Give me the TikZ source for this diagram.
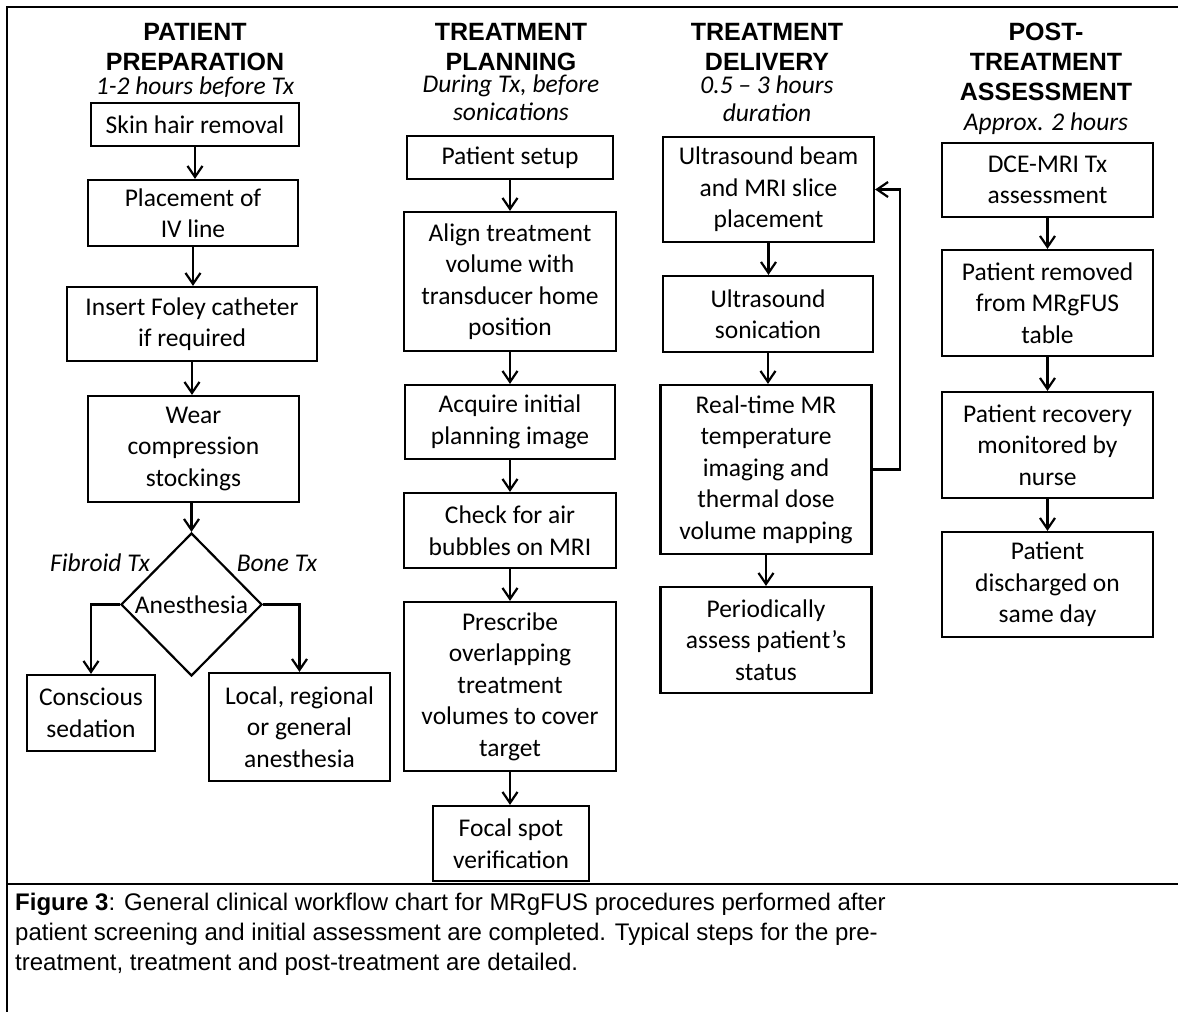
\documentclass[tikz,border=0pt]{standalone}
\usepackage{fontspec}
\setmainfont{Carlito}
\newfontfamily\arialfont{Liberation Sans}
\usetikzlibrary{arrows.meta,shapes.geometric}
\begin{document}
\begin{tikzpicture}[x=1pt,y=-1pt,
 box/.style={draw,line width=2.2pt,align=center,inner sep=0pt,font=\fontsize{25.5}{31.5}\selectfont},
 arr/.style={line width=2.2pt,-{Straight Barb[length=11pt,width=15pt]}},
 ttl/.style={align=center,inner sep=0pt,font=\arialfont\bfseries\fontsize{25}{30}\selectfont},
 sub/.style={align=center,inner sep=0pt,font=\itshape\fontsize{25.5}{27.5}\selectfont},
 lbl/.style={inner sep=0pt,font=\itshape\fontsize{25.5}{28}\selectfont}]
\useasboundingbox (0,0) rectangle (1178,1012);
\fill[white] (0,0) rectangle (1178,1012);
\draw[line width=2.2pt] (7,1012) -- (7,7) -- (1178,7);
\draw[line width=2.2pt] (7,884) -- (1178,884);

% headings
\node[ttl,anchor=north] (t1) at (195,23) {PATIENT\\PREPARATION};
\node[sub,anchor=north] (u1) at (195,77) {1-2 hours before Tx};
\node[ttl,anchor=north] (t2) at (511,23) {TREATMENT\\PLANNING};
\node[sub,anchor=north] (u2) at (511,75) {During Tx, before\\sonications};
\node[ttl,anchor=north] (t3) at (767,23) {TREATMENT\\DELIVERY};
\node[sub,anchor=north] (u3) at (767,76) {0.5 – 3 hours\\duration};
\node[ttl,anchor=north] (t4) at (1046,23) {POST-\\TREATMENT\\ASSESSMENT};
\node[sub,anchor=north] (u4) at (1046,113) {Approx. 2 hours};

% column 1
\node[box,minimum width=208pt,minimum height=43pt] (s1) at (195,124.5) {Skin hair removal};
\node[box,minimum width=210pt,minimum height=66pt] (s2) at (193,213) {Placement of\\IV line};
\node[box,minimum width=250pt,minimum height=74pt] (s3) at (192,324) {Insert Foley catheter\\if required};
\node[box,minimum width=211pt,minimum height=106pt] (s4) at (193.5,449) {Wear\\compression\\stockings};
\node[draw,line width=2.2pt,diamond,inner sep=0pt,minimum width=141pt,minimum height=143pt] (dia) at (191.5,604.5) {};
\node[inner sep=0pt,font=\fontsize{25.5}{28}\selectfont] (anes) at (dia.center) {Anesthesia};
\node[lbl] (fib) at (100,563) {Fibroid Tx};
\node[lbl] (bone) at (277,563) {Bone Tx};
\node[box,minimum width=128pt,minimum height=76pt] (cons) at (91,713) {Conscious\\sedation};
\node[box,minimum width=181pt,minimum height=108pt] (loc) at (299.5,727) {Local, regional\\or general\\anesthesia};

\draw[arr] (s1.south) -- (s1.south |- s2.north);
\draw[arr] (s2.south) -- (s2.south |- s3.north);
\draw[arr] (s3.south) -- (s3.south |- s4.north);
\draw[arr] (s4.south -| dia.north) -- (dia.north);
\draw[arr] (dia.west) -| (cons.north);
\draw[arr] (dia.east) -| (loc.north);

% column 2
\node[box,minimum width=206pt,minimum height=43pt] (p1) at (510,157.5) {Patient setup};
\node[box,minimum width=212pt,minimum height=139pt] (p2) at (510,281.5) {Align treatment\\volume with\\transducer home\\position};
\node[box,minimum width=210pt,minimum height=74pt] (p3) at (510,422) {Acquire initial\\planning image};
\node[box,minimum width=212pt,minimum height=75pt] (p4) at (510,530.5) {Check for air\\bubbles on MRI};
\node[box,minimum width=212pt,minimum height=169pt] (p5) at (510,686.5) {Prescribe\\overlapping\\treatment\\volumes to cover\\target};
\node[box,minimum width=156pt,minimum height=75pt] (p6) at (511,843.5) {Focal spot\\verification};
\draw[arr] (p1.south) -- (p1.south |- p2.north);
\draw[arr] (p2.south) -- (p2.south |- p3.north);
\draw[arr] (p3.south) -- (p3.south |- p4.north);
\draw[arr] (p4.south) -- (p4.south |- p5.north);
\draw[arr] (p5.south) -- (p5.south |- p6.north);

% column 3
\node[box,minimum width=211pt,minimum height=105pt] (d1) at (768.5,189.5) {Ultrasound beam\\and MRI slice\\placement};
\node[box,minimum width=210pt,minimum height=76pt] (d2) at (768,314) {Ultrasound\\sonication};
\node[box,minimum width=211pt,minimum height=169pt] (d3) at (766,469.5) {Real-time MR\\temperature\\imaging and\\thermal dose\\volume mapping};
\node[box,minimum width=211pt,minimum height=106pt] (d4) at (766,640) {Periodically\\assess patient’s\\status};
\draw[arr] (d1.south) -- (d1.south |- d2.north);
\draw[arr] (d2.south) -- (d2.south |- d3.north);
\draw[arr] (d3.south) -- (d3.south |- d4.north);
\draw[arr] (d3.east) -- ++(27,0) |- (d1.east);

% column 4
\node[box,minimum width=211pt,minimum height=74pt] (a1) at (1047.5,180) {DCE-MRI Tx\\assessment};
\node[box,minimum width=211pt,minimum height=106pt] (a2) at (1047.5,303) {Patient removed\\from MRgFUS\\table};
\node[box,minimum width=211pt,minimum height=106pt] (a3) at (1047.5,445) {Patient recovery\\monitored by\\nurse};
\node[box,minimum width=211pt,minimum height=105pt] (a4) at (1047.5,584.5) {Patient\\discharged on\\same day};
\draw[arr] (a1.south) -- (a1.south |- a2.north);
\draw[arr] (a2.south) -- (a2.south |- a3.north);
\draw[arr] (a3.south) -- (a3.south |- a4.north);

% caption
\node[anchor=north west,align=left,inner sep=0pt,font=\arialfont\fontsize{24}{30}\selectfont] (cap) at (15,893) {\textbf{Figure 3}: General clinical workflow chart for MRgFUS procedures performed after\\patient screening and initial assessment are completed. Typical steps for the pre-\\treatment, treatment and post-treatment are detailed.};
\end{tikzpicture}
\end{document}
